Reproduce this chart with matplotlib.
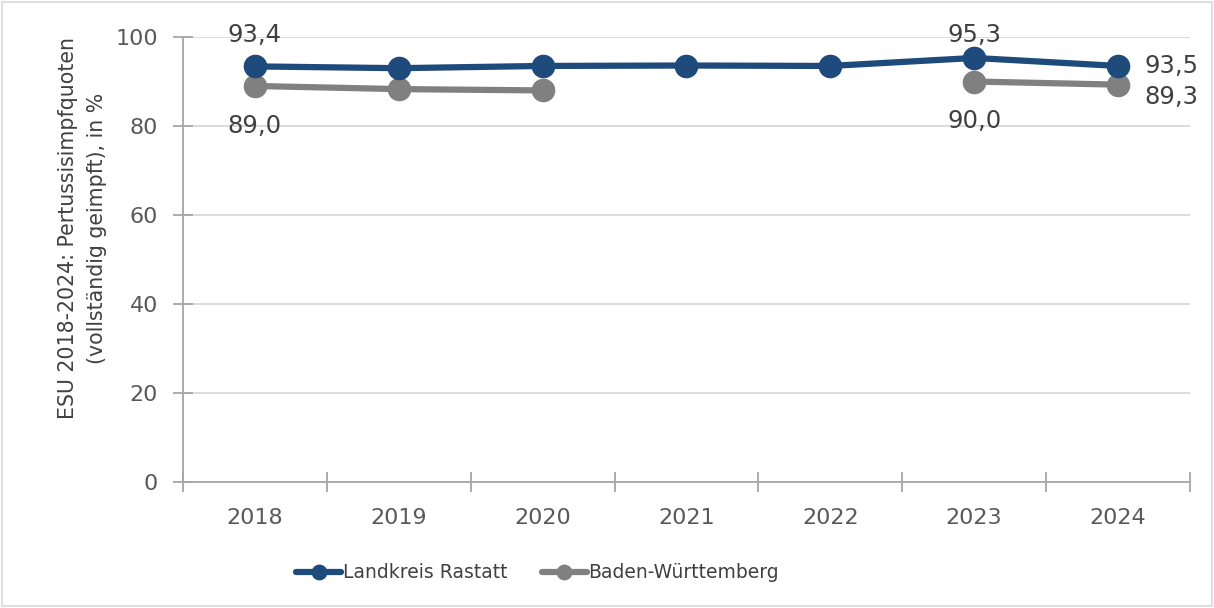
import matplotlib.pyplot as plt
import numpy as np

# Daten
jahre = ['2018', '2019', '2020', '2021', '2022', '2023', '2024']
rastatt = [93.4, 93.0, 93.5, 93.6, 93.5, 95.3, 93.5]
bw = [89.0, 88.3, 88.0, np.nan, np.nan, 90.0, 89.3]

c_rastatt = '#1f4a7c'
c_bw = '#808080'
c_text = '#404040'
c_tick = '#595959'

fig = plt.figure(figsize=(12.14, 6.08), dpi=100)
ax = fig.add_axes([0.1507, 0.2072, 0.8295, 0.7319])

x = np.arange(len(jahre))
ax.plot(x, rastatt, color=c_rastatt, lw=4.5, marker='o', ms=16,
        label='Landkreis Rastatt', zorder=4, solid_capstyle='round')
ax.plot(x, bw, color=c_bw, lw=4.5, marker='o', ms=16,
        label='Baden-Württemberg', zorder=3, solid_capstyle='round')

ax.set_xlim(-0.5, len(jahre) - 0.5)
ax.set_ylim(0, 100)
ax.set_yticks(range(0, 101, 20))
ax.set_xticks(x)
ax.set_xticklabels(jahre)
ax.set_xticks(np.arange(-0.5, len(jahre)), minor=True)
ax.tick_params(axis='x', which='major', length=0, pad=19, labelsize=16, labelcolor=c_tick)
ax.tick_params(axis='x', which='minor', direction='inout', length=14, width=1.3, color='#a6a6a6')
ax.tick_params(axis='y', direction='inout', length=14, width=1.3, color='#a6a6a6',
               labelsize=16, labelcolor=c_tick, pad=11)

ax.grid(axis='y', color='#d9d9d9', lw=1.3)
ax.set_axisbelow(True)
for s in ['top', 'right']:
    ax.spines[s].set_visible(False)
for s in ['left', 'bottom']:
    ax.spines[s].set_color('#a6a6a6')
    ax.spines[s].set_linewidth(1.3)

ax.set_ylabel('ESU 2018-2024: Pertussisimpfquoten\n(vollständig geimpft), in %',
              fontsize=14.8, color=c_text, linespacing=1.55)
ax.yaxis.set_label_coords(-0.0755, 0.571)

fmt = lambda v: f'{v:.1f}'.replace('.', ',')
fs = 17.5
# Datenbeschriftungen
ax.annotate(fmt(rastatt[0]), (x[0], rastatt[0]), xytext=(0, 14), textcoords='offset points',
            ha='center', va='bottom', fontsize=fs, color=c_text)
ax.annotate(fmt(bw[0]), (x[0], bw[0]), xytext=(0, -20), textcoords='offset points',
            ha='center', va='top', fontsize=fs, color=c_text)
ax.annotate(fmt(rastatt[5]), (x[5], rastatt[5]), xytext=(0, 8), textcoords='offset points',
            ha='center', va='bottom', fontsize=fs, color=c_text)
ax.annotate(fmt(bw[5]), (x[5], bw[5]), xytext=(0, -20), textcoords='offset points',
            ha='center', va='top', fontsize=fs, color=c_text)
ax.annotate(fmt(rastatt[6]), (x[6], rastatt[6]), xytext=(19, 0), textcoords='offset points',
            ha='left', va='center', fontsize=fs, color=c_text)
ax.annotate(fmt(bw[6]), (x[6], bw[6]), xytext=(19, -9), textcoords='offset points',
            ha='left', va='center', fontsize=fs, color=c_text)

leg = fig.legend(loc='center', bbox_to_anchor=(0.443, 0.058), ncol=2, frameon=False,
                 fontsize=13.5, handlelength=2.4, handletextpad=0.1, columnspacing=1.8,
                 labelcolor=c_text, markerscale=0.65)

# Rahmen um die Grafik
fig.patches.append(plt.Rectangle((0.002, 0.003), 0.996, 0.994, transform=fig.transFigure,
                                 fill=False, edgecolor='#d9d9d9', lw=1.2))

fig.savefig('out.png', dpi=100)
